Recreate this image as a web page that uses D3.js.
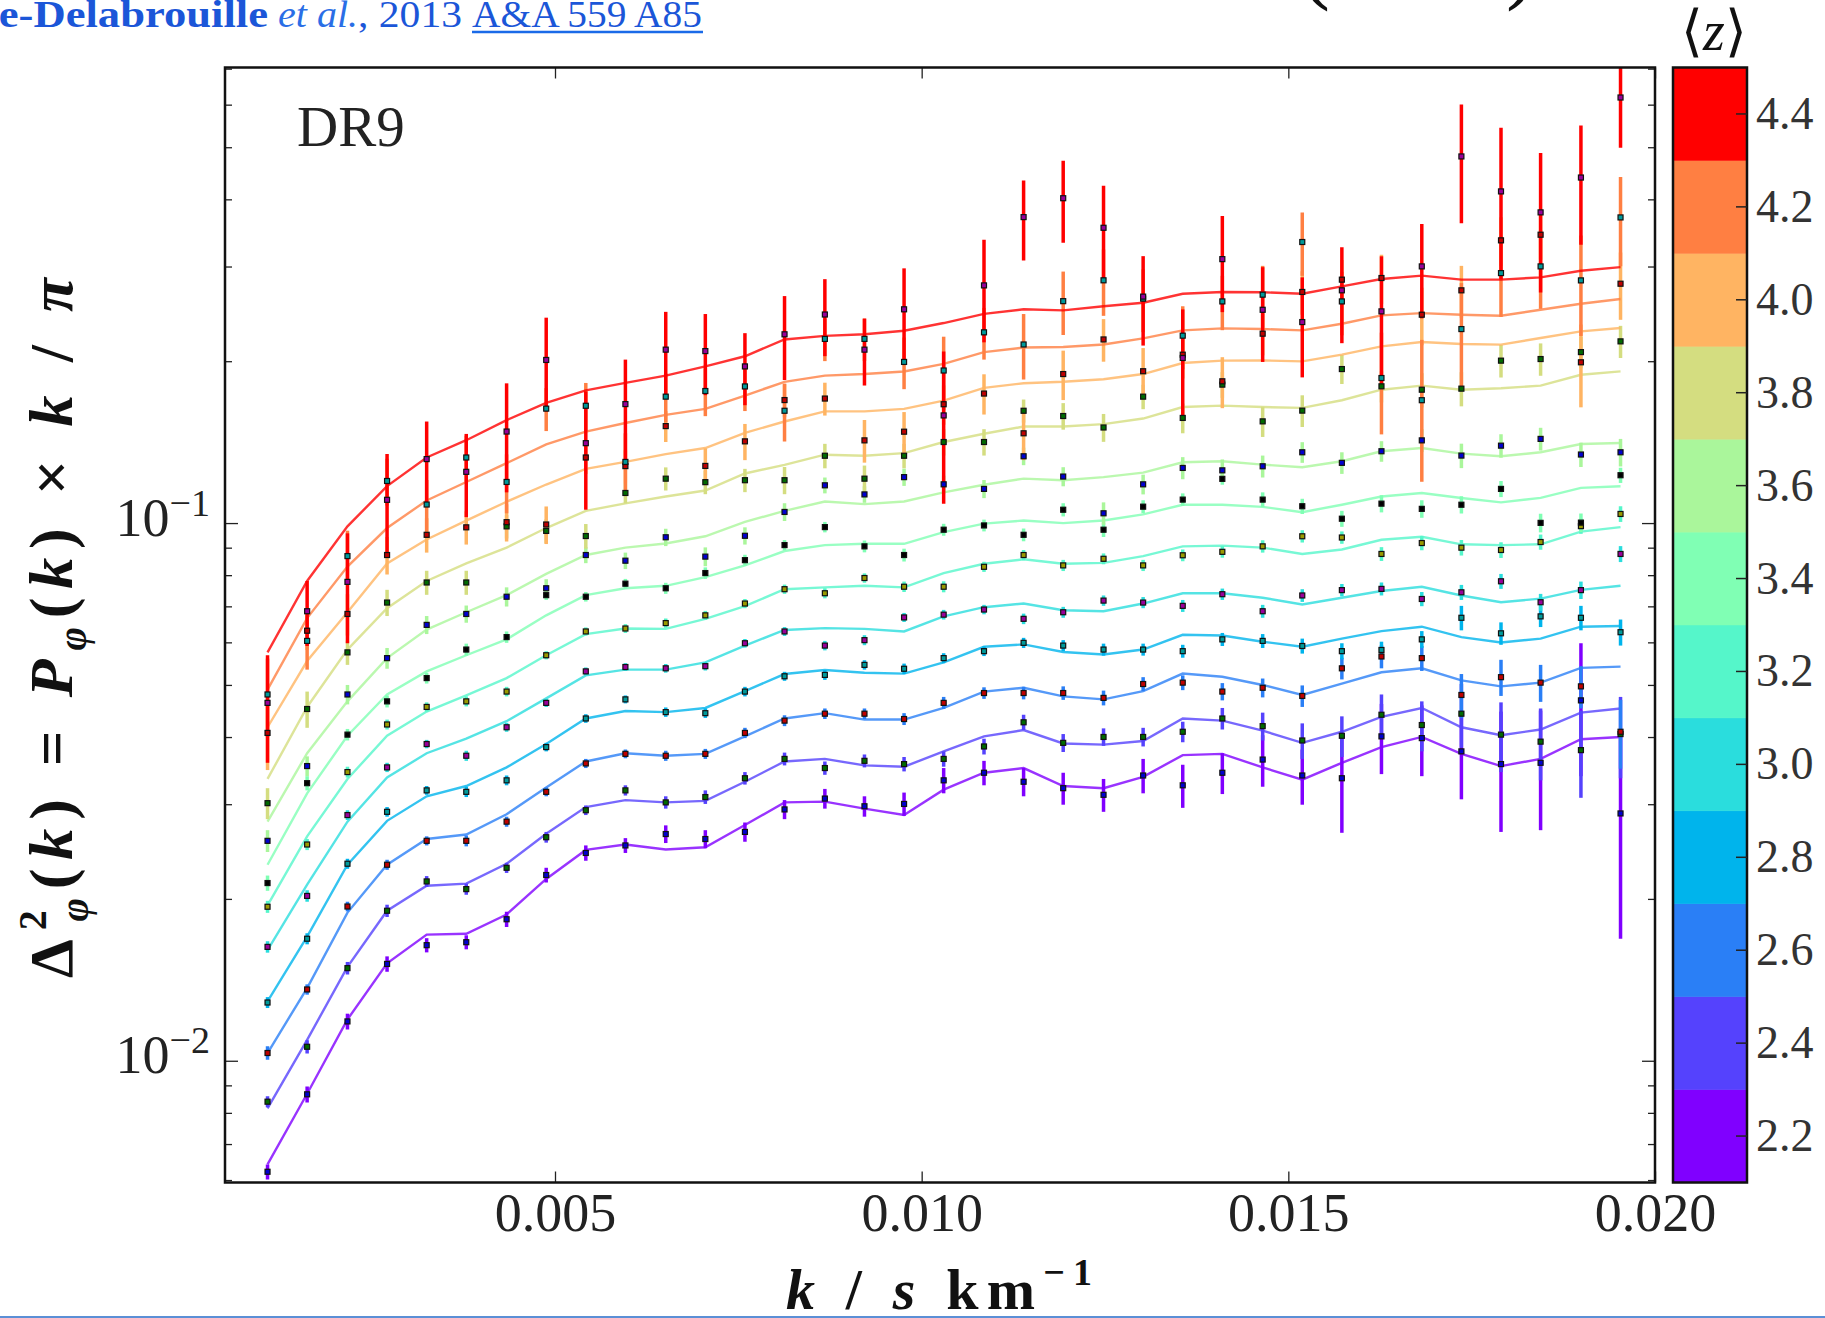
<!DOCTYPE html>
<html>
<head>
<meta charset="utf-8">
<script src="https://cdn.jsdelivr.net/npm/d3@7"></script>
<style>
  body { margin: 0; background: #fff; }
  svg { display: block; }
</style>
</head>
<body>
<div id="chart"></div>
<script>
// k bins, s/km
var kValues = [0.00108,0.00162,0.00217,0.00271,0.00325,0.00379,0.00434,0.00488,0.00542,0.00596,
  0.00651,0.00705,0.00759,0.00813,0.00868,0.00922,0.00976,0.01030,0.01085,0.01139,
  0.01193,0.01248,0.01302,0.01356,0.01410,0.01465,0.01519,0.01573,0.01627,0.01682,
  0.01736,0.01790,0.01844,0.01899,0.01953];

var zBins = [2.2, 2.4, 2.6, 2.8, 3.0, 3.2, 3.4, 3.6, 3.8, 4.0, 4.2, 4.4];
var xTicks = [0.005, 0.010, 0.015, 0.020];
var yMajor = [0.1, 0.01];
var yMajorLabels = ['−1', '−2'];

// fitted model (lines), measured points and 1-sigma errors, one set per redshift bin
var fit22 = [0.00643,0.00870,0.01196,0.01521,0.01720,0.01726,0.01875,0.02183,0.02472,0.02530,0.02477,0.02500,0.02750,0.03030,0.03040,0.02950,0.02870,0.03200,0.03440,0.03510,0.03250,0.03220,0.03380,0.03710,0.03730,0.03520,0.03340,0.03590,0.03840,0.04010,0.03730,0.03540,0.03650,0.03970,0.04010];
var pk22  = [0.00623,0.00868,0.01186,0.01517,0.01644,0.01665,0.01837,0.02220,0.02440,0.02520,0.02646,0.02590,0.02670,0.02940,0.03080,0.02980,0.03010,0.03330,0.03440,0.03310,0.03220,0.03130,0.03400,0.03260,0.03440,0.03640,0.03400,0.03360,0.04020,0.03990,0.03770,0.03570,0.03590,0.04690,0.02890];
var err22 = [0.0002,0.0003,0.0004,0.0005,0.0005,0.0005,0.0006,0.0007,0.0008,0.0008,0.0010,0.0010,0.0011,0.0012,0.0013,0.0013,0.0015,0.0018,0.0018,0.0020,0.0022,0.0022,0.0025,0.0030,0.0030,0.0040,0.0040,0.0070,0.0060,0.0060,0.0070,0.0090,0.0090,0.0130,0.0120];

var fit24 = [0.00817,0.01096,0.01498,0.01905,0.02120,0.02140,0.02330,0.02650,0.02970,0.03060,0.03030,0.03050,0.03310,0.03610,0.03650,0.03550,0.03530,0.03770,0.04020,0.04130,0.03900,0.03880,0.03940,0.04340,0.04300,0.04120,0.03910,0.04100,0.04370,0.04540,0.04180,0.04040,0.04140,0.04450,0.04530];
var pk24  = [0.00841,0.01064,0.01490,0.01905,0.02160,0.02090,0.02290,0.02610,0.02930,0.03190,0.03030,0.03100,0.03360,0.03650,0.03510,0.03620,0.03570,0.03650,0.03850,0.04270,0.03910,0.04010,0.04010,0.04100,0.04340,0.04200,0.03950,0.04030,0.04410,0.04220,0.04430,0.04050,0.03930,0.03790,0.04060];
var err24 = [0.0002,0.0003,0.0004,0.0005,0.0005,0.0005,0.0005,0.0006,0.0006,0.0007,0.0008,0.0009,0.0009,0.0010,0.0010,0.0010,0.0011,0.0012,0.0013,0.0014,0.0015,0.0015,0.0016,0.0018,0.0020,0.0025,0.0030,0.0035,0.0040,0.0045,0.0060,0.0060,0.0060,0.0070,0.0070];

var fit26 = [0.01036,0.01368,0.01890,0.02320,0.02590,0.02640,0.02880,0.03230,0.03610,0.03740,0.03700,0.03730,0.04020,0.04340,0.04440,0.04320,0.04320,0.04540,0.04870,0.04950,0.04770,0.04710,0.04880,0.05260,0.05190,0.05010,0.04800,0.05040,0.05290,0.05380,0.05110,0.04980,0.05060,0.05390,0.05420];
var pk26  = [0.01036,0.01360,0.01940,0.02320,0.02570,0.02570,0.02790,0.03170,0.03580,0.03730,0.03700,0.03730,0.04080,0.04300,0.04430,0.04430,0.04330,0.04640,0.04840,0.04840,0.04840,0.04740,0.05030,0.05060,0.04870,0.04950,0.04780,0.05380,0.05660,0.05620,0.04800,0.05180,0.05060,0.04980,0.04100];
var err26 = [0.0003,0.0003,0.0004,0.0005,0.0005,0.0006,0.0006,0.0006,0.0007,0.0007,0.0008,0.0008,0.0009,0.0010,0.0010,0.0010,0.0011,0.0012,0.0012,0.0013,0.0014,0.0015,0.0015,0.0016,0.0018,0.0020,0.0022,0.0025,0.0028,0.0030,0.0045,0.0040,0.0040,0.0045,0.0060];

var fit28 = [0.01293,0.01706,0.02320,0.02800,0.03110,0.03250,0.03520,0.03890,0.04340,0.04480,0.04460,0.04540,0.04880,0.05250,0.05340,0.05280,0.05260,0.05520,0.05900,0.05960,0.05770,0.05710,0.05830,0.06210,0.06190,0.06030,0.05900,0.06110,0.06310,0.06430,0.06150,0.06010,0.06110,0.06430,0.06450];
var pk28  = [0.01286,0.01690,0.02330,0.02910,0.03190,0.03170,0.03330,0.03840,0.04340,0.04710,0.04460,0.04440,0.04870,0.05200,0.05230,0.05460,0.05370,0.05620,0.05790,0.06000,0.05930,0.05830,0.05830,0.05790,0.06090,0.06050,0.05920,0.05790,0.05820,0.06090,0.06680,0.06250,0.06720,0.06680,0.06280];
var err28 = [0.0003,0.0004,0.0005,0.0006,0.0006,0.0007,0.0007,0.0007,0.0008,0.0008,0.0009,0.0009,0.0010,0.0010,0.0011,0.0011,0.0012,0.0012,0.0012,0.0013,0.0014,0.0015,0.0015,0.0016,0.0017,0.0018,0.0019,0.0020,0.0021,0.0022,0.0035,0.0030,0.0030,0.0035,0.0035];

var fit30 = [0.01610,0.02130,0.02790,0.03370,0.03740,0.03980,0.04290,0.04730,0.05220,0.05350,0.05350,0.05520,0.05930,0.06340,0.06390,0.06370,0.06300,0.06720,0.06990,0.07100,0.06900,0.06870,0.07100,0.07420,0.07420,0.07280,0.07070,0.07280,0.07490,0.07630,0.07350,0.07140,0.07250,0.07530,0.07660];
var pk30  = [0.01632,0.02030,0.02870,0.03520,0.03890,0.03700,0.04180,0.04640,0.05310,0.05410,0.05380,0.05430,0.05990,0.06300,0.05930,0.06070,0.06690,0.06770,0.06920,0.06650,0.06840,0.07190,0.07130,0.07030,0.07390,0.06870,0.07350,0.07520,0.07560,0.07240,0.07450,0.07810,0.07140,0.07520,0.08780];
var err30 = [0.0004,0.0005,0.0006,0.0007,0.0007,0.0008,0.0008,0.0008,0.0009,0.0009,0.0010,0.0010,0.0011,0.0012,0.0012,0.0013,0.0013,0.0014,0.0014,0.0015,0.0016,0.0016,0.0017,0.0018,0.0018,0.0019,0.0020,0.0020,0.0021,0.0022,0.0024,0.0025,0.0026,0.0028,0.0030];

var fit32 = [0.01950,0.02620,0.03350,0.04030,0.04470,0.04790,0.05160,0.05690,0.06230,0.06380,0.06370,0.06650,0.07020,0.07550,0.07610,0.07660,0.07610,0.08090,0.08420,0.08580,0.08420,0.08450,0.08700,0.09070,0.09100,0.09020,0.08780,0.08950,0.09330,0.09450,0.09150,0.09120,0.09150,0.09660,0.09850];
var pk32  = [0.01938,0.02530,0.03450,0.04230,0.04560,0.04670,0.04870,0.05690,0.06300,0.06380,0.06530,0.06750,0.07100,0.07550,0.07420,0.07920,0.07630,0.07630,0.08310,0.08740,0.08360,0.08600,0.08360,0.08730,0.08860,0.09070,0.09470,0.09420,0.08780,0.09200,0.09020,0.08930,0.09240,0.09890,0.10420];
var err32 = [0.0005,0.0006,0.0008,0.0009,0.0009,0.0010,0.0010,0.0010,0.0011,0.0012,0.0013,0.0013,0.0014,0.0015,0.0016,0.0016,0.0017,0.0018,0.0018,0.0019,0.0020,0.0020,0.0020,0.0022,0.0022,0.0024,0.0025,0.0025,0.0026,0.0028,0.0030,0.0030,0.0030,0.0032,0.0035];

var fit34 = [0.02320,0.03150,0.04030,0.04810,0.05310,0.05690,0.06090,0.06750,0.07360,0.07580,0.07660,0.07950,0.08360,0.08890,0.09120,0.09170,0.09170,0.09640,0.10000,0.10130,0.10020,0.10130,0.10400,0.10840,0.10840,0.10740,0.10500,0.10840,0.11230,0.11400,0.11160,0.10950,0.11160,0.11650,0.11730];
var pk34  = [0.02145,0.03290,0.04050,0.04670,0.05160,0.05830,0.06150,0.07360,0.07310,0.07730,0.07580,0.08090,0.08550,0.09120,0.09850,0.09070,0.08740,0.09740,0.09920,0.09530,0.10610,0.09740,0.10750,0.11080,0.12110,0.11080,0.10770,0.10210,0.10890,0.10650,0.10840,0.11600,0.10030,0.10040,0.12300];
var err34 = [0.0007,0.0010,0.0010,0.0012,0.0012,0.0015,0.0015,0.0015,0.0015,0.0016,0.0018,0.0020,0.0020,0.0020,0.0022,0.0023,0.0024,0.0025,0.0025,0.0026,0.0030,0.0030,0.0030,0.0030,0.0030,0.0035,0.0035,0.0035,0.0040,0.0040,0.0040,0.0040,0.0040,0.0040,0.0040];

var fit36 = [0.02790,0.03740,0.04670,0.05620,0.06350,0.06840,0.07360,0.08060,0.08740,0.09020,0.09180,0.09470,0.10070,0.10560,0.10990,0.10870,0.10990,0.11430,0.11810,0.12120,0.12040,0.12200,0.12440,0.13000,0.13060,0.12870,0.12730,0.13060,0.13630,0.13820,0.13490,0.13340,0.13570,0.14060,0.14120];
var pk36  = [0.02570,0.03540,0.04810,0.05620,0.06480,0.06790,0.07310,0.07580,0.08740,0.08530,0.09430,0.08680,0.09490,0.10510,0.11780,0.11330,0.12200,0.11830,0.11600,0.13340,0.12230,0.10450,0.11830,0.12690,0.12560,0.12780,0.13570,0.12970,0.13630,0.14280,0.13380,0.13960,0.14370,0.13440,0.13570];
var err36 = [0.0012,0.0015,0.0020,0.0025,0.0025,0.0025,0.0030,0.0030,0.0030,0.0030,0.0035,0.0035,0.0035,0.0040,0.0040,0.0040,0.0045,0.0045,0.0045,0.0050,0.0050,0.0050,0.0050,0.0060,0.0060,0.0060,0.0060,0.0060,0.0060,0.0070,0.0070,0.0070,0.0070,0.0070,0.0080];

var fit38 = [0.03350,0.04560,0.05830,0.06960,0.07820,0.08430,0.09020,0.09810,0.10560,0.10900,0.11230,0.11520,0.12390,0.12860,0.13430,0.13370,0.13520,0.14180,0.14690,0.15150,0.15150,0.15310,0.15680,0.16470,0.16570,0.16470,0.16410,0.16960,0.17740,0.18050,0.17740,0.17850,0.18050,0.18910,0.19190];
var pk38  = [0.03020,0.04520,0.05760,0.07130,0.07770,0.07770,0.09880,0.09690,0.09480,0.11400,0.12120,0.11940,0.12040,0.12040,0.13370,0.12120,0.13370,0.14180,0.14180,0.16210,0.15850,0.15090,0.17220,0.15720,0.18130,0.15490,0.16220,0.19380,0.18000,0.17740,0.17820,0.20090,0.20230,0.20840,0.21820];
var err38 = [0.0020,0.0035,0.0030,0.0040,0.0040,0.0040,0.0050,0.0050,0.0050,0.0050,0.0060,0.0060,0.0060,0.0070,0.0070,0.0070,0.0070,0.0080,0.0080,0.0080,0.0090,0.0090,0.0090,0.0100,0.0100,0.0100,0.0110,0.0120,0.0120,0.0130,0.0130,0.0140,0.0140,0.0140,0.0150];

var fit40 = [0.04180,0.05550,0.06840,0.08430,0.09340,0.10130,0.10980,0.11820,0.12640,0.13020,0.13460,0.13820,0.14750,0.15480,0.16170,0.16170,0.16340,0.16930,0.17880,0.18240,0.18350,0.18550,0.18970,0.19890,0.20090,0.20110,0.20030,0.20610,0.21360,0.21760,0.21580,0.21520,0.22140,0.22770,0.23100];
var pk40  = [0.04080,0.06320,0.06790,0.08740,0.09530,0.09840,0.10060,0.09960,0.13270,0.12790,0.15180,0.12800,0.14220,0.16970,0.17080,0.14280,0.14820,0.16670,0.17450,0.14720,0.18970,0.22000,0.19200,0.20610,0.18390,0.22550,0.26960,0.28420,0.28620,0.24460,0.27150,0.33630,0.34450,0.19950,0.27930];
var err40 = [0.006,0.005,0.006,0.007,0.007,0.007,0.008,0.008,0.009,0.009,0.010,0.010,0.011,0.012,0.012,0.013,0.013,0.014,0.015,0.016,0.020,0.020,0.020,0.020,0.020,0.020,0.025,0.025,0.030,0.030,0.030,0.035,0.035,0.035,0.040];

var fit42 = [0.04910,0.06670,0.08320,0.09810,0.11040,0.11950,0.12950,0.14040,0.14830,0.15380,0.15930,0.16340,0.17300,0.18350,0.18840,0.18970,0.19180,0.19820,0.20840,0.21250,0.21300,0.21530,0.22100,0.22870,0.23070,0.23000,0.22870,0.23530,0.24390,0.24630,0.24460,0.24350,0.24980,0.25640,0.26160];
var pk42  = [0.04810,0.06050,0.08700,0.12000,0.10850,0.13270,0.11950,0.16360,0.16560,0.13020,0.17220,0.17640,0.17990,0.16210,0.22050,0.22050,0.19980,0.19260,0.22680,0.21530,0.25920,0.28340,0.26200,0.22360,0.25890,0.26650,0.33390,0.25890,0.18650,0.16960,0.23000,0.29230,0.30080,0.28330,0.37100];
var err42 = [0.008,0.007,0.010,0.012,0.012,0.013,0.015,0.015,0.017,0.017,0.018,0.018,0.018,0.020,0.020,0.020,0.022,0.030,0.025,0.030,0.035,0.040,0.035,0.030,0.030,0.035,0.045,0.035,0.040,0.050,0.050,0.050,0.050,0.060,0.070];

var fit44 = [0.05760,0.07820,0.09880,0.11740,0.13270,0.14290,0.15570,0.16760,0.17690,0.18270,0.18840,0.19600,0.20470,0.22000,0.22340,0.22490,0.22840,0.23600,0.24550,0.25030,0.24920,0.25360,0.25750,0.26760,0.26960,0.26920,0.26760,0.27620,0.28500,0.28910,0.28420,0.28420,0.28700,0.29530,0.29990];
var pk44  = [0.04640,0.06870,0.07790,0.11070,0.13180,0.12480,0.14830,0.20150,0.14110,0.16680,0.21060,0.20930,0.19600,0.22490,0.24480,0.21060,0.25030,0.15890,0.27730,0.37150,0.40280,0.35490,0.26430,0.20320,0.31030,0.24980,0.23700,0.27150,0.24810,0.30080,0.48170,0.41470,0.37910,0.44010,0.62000];
var err44 = [0.0105,0.0095,0.018,0.024,0.023,0.022,0.034,0.040,0.035,0.035,0.037,0.036,0.030,0.040,0.040,0.030,0.048,0.050,0.060,0.063,0.070,0.070,0.050,0.047,0.063,0.050,0.050,0.055,0.066,0.060,0.120,0.130,0.110,0.110,0.120];

// styles
var zColors = ['#8000ff','#5542fd','#2a7ff6','#00b4ec','#2adddd','#55f6ca','#80ffb4','#aaf69b','#d4dd80','#ffb462','#ff7f42','#ff0000'];
var markerColors = ['#0000d0','#006a00','#c00000','#009a9a','#9a009a','#9a9a00','#000000','#0000d0','#006a00','#c00000','#009a9a','#9a009a'];

var series = [
  {fit: fit22, pk: pk22, err: err22}, {fit: fit24, pk: pk24, err: err24},
  {fit: fit26, pk: pk26, err: err26}, {fit: fit28, pk: pk28, err: err28},
  {fit: fit30, pk: pk30, err: err30}, {fit: fit32, pk: pk32, err: err32},
  {fit: fit34, pk: pk34, err: err34}, {fit: fit36, pk: pk36, err: err36},
  {fit: fit38, pk: pk38, err: err38}, {fit: fit40, pk: pk40, err: err40},
  {fit: fit42, pk: pk42, err: err42}, {fit: fit44, pk: pk44, err: err44}
];

var W = 1825, H = 1318;
var pLeft = 225, pRight = 1655, pTop = 67.5, pBottom = 1182.5;
var cbLeft = 1673, cbRight = 1747;
var serif = "'Liberation Serif', 'DejaVu Serif', serif";

var svg = d3.select("#chart").append("svg")
  .attr("width", W)
  .attr("height", H);

var x = d3.scaleLinear().domain([0.0005, 0.0200]).range([pLeft, pRight]);
var y = d3.scaleLog().domain([0.00595, 0.705]).range([pBottom, pTop]);
var zs = d3.scaleLinear().domain([2.1, 4.5]).range([pBottom, pTop]);

svg.append("clipPath").attr("id", "plotclip")
  .append("rect")
  .attr("x", pLeft).attr("y", pTop)
  .attr("width", pRight - pLeft).attr("height", pBottom - pTop);

var plotG = svg.append("g").attr("clip-path", "url(#plotclip)");

var line = d3.line()
  .x(function (d, i) { return x(kValues[i]); })
  .y(function (d) { return y(d); });

// error bars and model lines, low z first
series.forEach(function (s, j) {
  var g = plotG.append("g");
  g.selectAll("line.eb")
    .data(s.pk)
    .enter().append("line")
    .attr("class", "eb")
    .attr("x1", function (d, i) { return x(kValues[i]); })
    .attr("x2", function (d, i) { return x(kValues[i]); })
    .attr("y1", function (d, i) { return y(d + s.err[i]); })
    .attr("y2", function (d, i) { return y(Math.max(d - s.err[i], 0.001)); })
    .style("stroke", zColors[j])
    .style("stroke-width", "3.5px");

  g.append("path")
    .datum(s.fit)
    .attr("d", line)
    .style("fill", "none")
    .style("stroke", zColors[j])
    .style("stroke-width", "2.4px")
    .style("opacity", 0.8);
});

// data markers on top
series.forEach(function (s, j) {
  plotG.append("g").selectAll("rect")
    .data(s.pk)
    .enter().append("rect")
    .attr("x", function (d, i) { return x(kValues[i]) - 2.5; })
    .attr("y", function (d) { return y(d) - 2.5; })
    .attr("width", 5)
    .attr("height", 5)
    .style("fill", markerColors[j])
    .style("stroke", "#111")
    .style("stroke-width", "1.2px");
});

// x axis (bottom with labels, top ticks only)
var xAxis = d3.axisBottom(x)
  .tickValues(xTicks)
  .tickFormat(d3.format(".3f"))
  .tickSize(-11)
  .tickSizeOuter(0)
  .tickPadding(10);
var gx = svg.append("g")
  .attr("transform", "translate(0," + pBottom + ")")
  .call(xAxis);
gx.select(".domain").remove();
gx.selectAll("line").style("stroke", "#222").style("stroke-width", "1.3px");
gx.selectAll("text")
  .style("font-family", serif)
  .style("font-size", "54px")
  .style("fill", "#222");

var gxt = svg.append("g")
  .attr("transform", "translate(0," + pTop + ")")
  .call(d3.axisTop(x).tickValues(xTicks).tickFormat("").tickSize(-11).tickSizeOuter(0));
gxt.select(".domain").remove();
gxt.selectAll("line").style("stroke", "#222").style("stroke-width", "1.3px");

// y ticks, log scale, both sides
var yTicks = y.ticks();
yTicks.forEach(function (t) {
  var isMajor = Math.abs(Math.log10(t) - Math.round(Math.log10(t))) < 1e-6;
  var len = isMajor ? 13 : 7;
  svg.append("line")
    .attr("x1", pLeft).attr("x2", pLeft + len)
    .attr("y1", y(t)).attr("y2", y(t))
    .style("stroke", "#222").style("stroke-width", "1.3px");
  svg.append("line")
    .attr("x1", pRight - len).attr("x2", pRight)
    .attr("y1", y(t)).attr("y2", y(t))
    .style("stroke", "#222").style("stroke-width", "1.3px");
});

yMajor.forEach(function (t, i) {
  var lab = svg.append("text")
    .attr("x", 210)
    .attr("y", y(t) + 12)
    .attr("text-anchor", "end")
    .style("font-family", serif)
    .style("font-size", "54px")
    .style("fill", "#222");
  lab.append("tspan").text("10");
  lab.append("tspan").attr("dy", -20).style("font-size", "38px").text(yMajorLabels[i]);
});

// frame
svg.append("rect")
  .attr("x", pLeft).attr("y", pTop)
  .attr("width", pRight - pLeft).attr("height", pBottom - pTop)
  .style("fill", "none")
  .style("stroke", "#111")
  .style("stroke-width", "2.5px");

// DR9 tag
svg.append("text")
  .attr("x", 297).attr("y", 146)
  .style("font-family", serif)
  .style("font-size", "57px")
  .style("fill", "#222")
  .text("DR9");

// colour bar
svg.append("g").selectAll("rect")
  .data(zBins)
  .enter().append("rect")
  .attr("x", cbLeft)
  .attr("y", function (d) { return zs(d + 0.1); })
  .attr("width", cbRight - cbLeft)
  .attr("height", function (d) { return zs(d - 0.1) - zs(d + 0.1); })
  .style("fill", function (d, i) { return zColors[i]; })
  .style("stroke", function (d, i) { return zColors[i]; })
  .style("stroke-width", "0.5px");

svg.append("rect")
  .attr("x", cbLeft).attr("y", pTop)
  .attr("width", cbRight - cbLeft).attr("height", pBottom - pTop)
  .style("fill", "none")
  .style("stroke", "#111")
  .style("stroke-width", "2.5px");

zBins.forEach(function (z) {
  svg.append("line")
    .attr("x1", cbRight - 11).attr("x2", cbRight)
    .attr("y1", zs(z)).attr("y2", zs(z))
    .style("stroke", "#222").style("stroke-width", "1.5px");
  svg.append("text")
    .attr("x", 1756)
    .attr("y", zs(z) + 15)
    .style("font-family", serif)
    .style("font-size", "46px")
    .style("fill", "#333")
    .text(d3.format(".1f")(z));
});

var zl = svg.append("text")
  .attr("x", 1714).attr("y", 50)
  .attr("text-anchor", "middle")
  .style("font-family", serif)
  .style("font-size", "56px")
  .style("fill", "#111");
zl.append("tspan").style("font-family", "'DejaVu Sans', sans-serif").style("font-weight", "200").text("⟨");
zl.append("tspan").style("font-style", "italic").text("z");
zl.append("tspan").style("font-family", "'DejaVu Sans', sans-serif").style("font-weight", "200").text("⟩");

// axis titles
var yl = svg.append("text")
  .attr("transform", "translate(72,628) rotate(-90)")
  .attr("text-anchor", "middle")
  .attr("textLength", 700)
  .attr("lengthAdjust", "spacing")
  .style("font-family", serif)
  .style("font-weight", "bold")
  .style("font-size", "62px")
  .style("fill", "#111");
yl.append("tspan").text("Δ");
yl.append("tspan").attr("dy", -26).style("font-size", "40px").text("2");
yl.append("tspan").attr("dx", -20).attr("dy", 42).style("font-size", "40px").style("font-style", "italic").text("φ");
yl.append("tspan").attr("dy", -16).text("(");
yl.append("tspan").style("font-style", "italic").text("k");
yl.append("tspan").text(")  =  ");
yl.append("tspan").style("font-style", "italic").text("P");
yl.append("tspan").attr("dy", 14).style("font-size", "40px").style("font-style", "italic").text("φ");
yl.append("tspan").attr("dy", -14).text("(");
yl.append("tspan").style("font-style", "italic").text("k");
yl.append("tspan").text(")  ×  ");
yl.append("tspan").style("font-style", "italic").text("k");
yl.append("tspan").text("  /  ");
yl.append("tspan").style("font-style", "italic").text("π");

var xl = svg.append("text")
  .attr("x", 786).attr("y", 1309)
  .attr("textLength", 306)
  .attr("lengthAdjust", "spacing")
  .style("font-family", serif)
  .style("font-weight", "bold")
  .style("font-size", "58px")
  .style("fill", "#111");
xl.append("tspan").style("font-style", "italic").text("k");
xl.append("tspan").text(" / ");
xl.append("tspan").style("font-style", "italic").text("s");
xl.append("tspan").text(" km");
xl.append("tspan").attr("dy", -24).style("font-size", "38px").text("−1");

// citation line at the top, cut by the page edge
var blue = "#1b56d8";
svg.append("text")
  .attr("x", -26).attr("y", 27)
  .attr("textLength", 294)
  .attr("lengthAdjust", "spacingAndGlyphs")
  .style("font-family", serif)
  .style("font-weight", "bold")
  .style("font-size", "38px")
  .style("fill", blue)
  .text("ue-Delabrouille");
svg.append("text")
  .attr("x", 278).attr("y", 27)
  .attr("textLength", 80)
  .attr("lengthAdjust", "spacingAndGlyphs")
  .style("font-family", serif)
  .style("font-style", "italic")
  .style("font-size", "38px")
  .style("fill", "#2a6ee6")
  .text("et al.");
svg.append("text")
  .attr("x", 358).attr("y", 27)
  .attr("textLength", 104)
  .attr("lengthAdjust", "spacingAndGlyphs")
  .style("font-family", serif)
  .style("font-size", "38px")
  .style("fill", blue)
  .text(", 2013");
svg.append("text")
  .attr("x", 472).attr("y", 27)
  .attr("textLength", 230)
  .attr("lengthAdjust", "spacingAndGlyphs")
  .style("font-family", serif)
  .style("font-size", "38px")
  .style("fill", blue)
  .text("A&A 559 A85");
svg.append("line")
  .attr("x1", 472).attr("x2", 703)
  .attr("y1", 32).attr("y2", 32)
  .style("stroke", "#1a6ae8").style("stroke-width", "2.5px");

// tails of a bracket pair from the cropped line above
svg.append("text").attr("x", 1300).attr("y", -8)
  .style("font-family", serif).style("font-size", "90px").style("fill", "#111").text("(");
svg.append("text").attr("x", 1506).attr("y", -8)
  .style("font-family", serif).style("font-size", "90px").style("fill", "#111").text(")");

// thin page rule at the bottom edge
svg.append("line")
  .attr("x1", 0).attr("x2", W)
  .attr("y1", 1317).attr("y2", 1317)
  .style("stroke", "#5b8fd6").style("stroke-width", "2px");
</script>
</body>
</html>
